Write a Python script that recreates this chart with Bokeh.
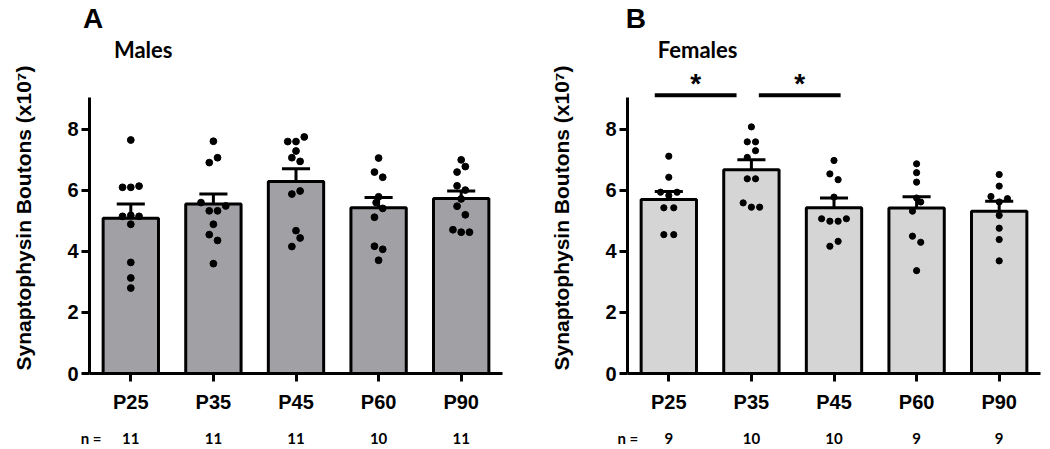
from bokeh.plotting import figure
from bokeh.models import Range1d, FixedTicker, LinearAxis, Title
from bokeh.models import Label
from bokeh.layouts import row
from bokeh.embed import file_html
from bokeh.resources import INLINE

# ---------------- data ----------------
ages = ["P25", "P35", "P45", "P60", "P90"]

male_mean = [5.09, 5.55, 6.29, 5.43, 5.73]
male_sem = [0.46, 0.33, 0.42, 0.34, 0.25]
male_n = [11, 11, 11, 10, 11]
male_points = [
    [7.65, 6.10, 6.10, 6.14, 5.18, 5.15, 5.15, 4.89, 3.64, 3.13, 2.80],
    [7.61, 7.07, 6.91, 5.60, 5.49, 5.33, 5.33, 4.89, 4.55, 4.36, 3.60],
    [7.75, 7.60, 7.60, 7.29, 7.07, 6.95, 5.98, 5.88, 4.68, 4.44, 4.16],
    [7.06, 6.60, 6.43, 5.79, 5.60, 5.41, 5.12, 4.17, 4.07, 3.71],
    [7.00, 6.78, 6.60, 6.15, 6.01, 5.72, 5.48, 5.20, 4.71, 4.63, 4.63],
]
male_jitter = [
    [0, -1, 0, 1, 0, -1, 1, 0, 0, 0, 0],
    [0, 0.5, -0.5, -1.5, 1.5, -0.5, 0.5, 0, -0.5, 0.5, 0],
    [1, -1, 0, 0, -0.5, 0.5, 0.5, -0.5, 0, 0.5, -0.5],
    [0, -0.5, 0.5, 0, -0.3, 0.5, -0.5, -0.5, 0.5, 0],
    [0, 0.5, -0.5, -0.5, 0.5, 0, -0.5, 0.5, -1, 0, 1],
]

female_mean = [5.70, 6.68, 5.43, 5.42, 5.32]
female_sem = [0.26, 0.32, 0.32, 0.37, 0.32]
female_n = [9, 10, 10, 9, 9]
female_points = [
    [7.12, 6.43, 5.94, 5.94, 5.83, 5.43, 5.43, 4.55, 4.55],
    [8.08, 7.59, 7.59, 7.30, 7.08, 6.38, 6.38, 5.59, 5.45, 5.45],
    [6.98, 6.54, 6.35, 5.78, 5.07, 5.07, 4.99, 4.99, 4.33, 4.17],
    [6.87, 6.58, 6.27, 5.75, 5.62, 5.32, 4.50, 4.30, 3.37],
    [6.52, 6.14, 5.80, 5.73, 5.62, 5.18, 4.76, 4.39, 3.69],
]
female_jitter = [
    [0, 0, -1, 1, 0, -0.6, 0.6, -0.6, 0.6],
    [0, -0.5, 0.5, 0.5, -0.5, -0.5, 0.5, -1, 0, 1],
    [0, -0.5, 0.5, 0, -1.5, 1.5, -0.5, 0.5, 0.5, -0.5],
    [0, 0, 0, 0, 0.5, -0.5, -0.5, 0.5, 0],
    [0, 0, -1, 1, 0, 0, 0, 0, 0],
]

# significant comparisons (group indices, 1-based) for females
female_sig = [(1, 2), (2, 3)]

y_ticks = [0, 2, 4, 6, 8]
y_label = "Synaptophysin Boutons (x10\u2077)"

ARIAL = "Liberation Sans"
HUM = "Lato"


def make_panel(letter, title, mean, sem, n, pts, jit, fill, dot_size, width,
               min_left, min_right, letter_off, title_off, n_pos, sig=None):
    p = figure(width=width, height=449, x_range=Range1d(0.5, 5.5), y_range=Range1d(0, 10.19),
               output_backend="svg", toolbar_location=None,
               min_border_left=min_left, min_border_right=min_right,
               min_border_top=62, min_border_bottom=76)
    p.outline_line_color = None
    p.xgrid.visible = False
    p.ygrid.visible = False
    p.background_fill_color = "white"
    p.border_fill_color = "white"

    xs = [i + 1 for i in range(len(ages))]

    # bars
    p.vbar(x=xs, width=0.67, top=mean, bottom=0, fill_color=fill,
           line_color="black", line_width=3)
    # error bars (upper SEM)
    tops = [m + s for m, s in zip(mean, sem)]
    p.segment(x0=xs, y0=mean, x1=xs, y1=tops, line_color="black", line_width=3)
    p.segment(x0=[x - 0.17 for x in xs], y0=tops, x1=[x + 0.17 for x in xs], y1=tops,
              line_color="black", line_width=3)
    # individual points
    px, py = [], []
    for i, (vals, js) in enumerate(zip(pts, jit)):
        for v, j in zip(vals, js):
            px.append(xs[i] + 0.1 * j)
            py.append(v)
    p.scatter(px, py, size=dot_size, color="black")

    # y axis
    ya = p.yaxis[0]
    ya.ticker = FixedTicker(ticks=y_ticks)
    ya.bounds = (0, 9.05)
    ya.axis_line_width = 3
    ya.major_tick_line_width = 3
    ya.major_tick_out = 8
    ya.major_tick_in = 0
    ya.minor_tick_line_color = None
    ya.major_label_text_font = ARIAL
    ya.major_label_text_font_style = "bold"
    ya.major_label_text_font_size = "20px"
    ya.major_label_text_color = "black"
    ya.major_label_standoff = 3
    ya.axis_label = y_label
    ya.axis_label_text_font = ARIAL
    ya.axis_label_text_font_style = "bold"
    ya.axis_label_text_font_size = "21px"
    ya.axis_label_text_color = "black"
    ya.axis_label_standoff = 29

    # x axis
    xa = p.xaxis[0]
    xa.ticker = FixedTicker(ticks=xs)
    xa.major_label_overrides = {x: a for x, a in zip(xs, ages)}
    xa.axis_line_width = 3
    xa.major_tick_line_width = 3
    xa.major_tick_out = 8
    xa.major_tick_in = 0
    xa.minor_tick_line_color = None
    xa.major_label_text_font = ARIAL
    xa.major_label_text_font_style = "bold"
    xa.major_label_text_font_size = "20px"
    xa.major_label_text_color = "black"
    xa.major_label_standoff = 9

    # n row as a second axis (with its "n =" caption)
    n_labels = {x: str(v) for x, v in zip(xs, n)}
    n_labels[n_pos] = "n ="
    na = LinearAxis(ticker=FixedTicker(ticks=[n_pos] + xs), major_label_overrides=n_labels)
    na.axis_line_color = None
    na.major_tick_line_color = None
    na.minor_tick_line_color = None
    na.major_tick_out = 0
    na.major_tick_in = 0
    na.major_label_standoff = 13
    na.major_label_text_font = HUM
    na.major_label_text_font_style = "bold"
    na.major_label_text_font_size = "15px"
    na.major_label_text_color = "black"
    p.add_layout(na, "below")

    # panel title and letter (first added sits nearest the plot)
    p.add_layout(Title(text=title, align="left", offset=title_off, standoff=0,
                       text_font=HUM, text_font_style="bold", text_font_size="22px",
                       text_color="black"), "above")
    p.add_layout(Title(text=letter, align="left", offset=letter_off, standoff=0,
                       text_font=ARIAL, text_font_style="bold", text_font_size="28px",
                       text_color="black"), "above")

    if sig:
        offs = [(-0.17, -0.18), (0.09, 0.08)]
        for (a, b), (oa, ob) in zip(sig, offs):
            x0, x1 = a + oa, b + ob
            p.segment(x0=[x0], y0=[9.12], x1=[x1], y1=[9.12], line_color="black",
                      line_width=4)
            p.add_layout(Label(x=(x0 + x1) / 2, y=9.5, text="*", text_font=ARIAL,
                               text_font_style="bold", text_font_size="28px",
                               text_align="center", text_baseline="alphabetic",
                               text_color="black"))
    return p


p1 = make_panel("A", "Males", male_mean, male_sem, male_n, male_points, male_jitter,
                "#a0a0a5", 6.8, 525, 89, 23, letter_off=-6.6, title_off=24.4, n_pos=0.52)
p2 = make_panel("B", "Females", female_mean, female_sem, female_n, female_points, female_jitter,
                "#d5d5d5", 6.2, 524, 102, 9, letter_off=-1.7, title_off=30.3, n_pos=0.505,
                sig=female_sig)

layout = row(p1, p2)
open("out.html", "w").write(file_html(layout, INLINE))
